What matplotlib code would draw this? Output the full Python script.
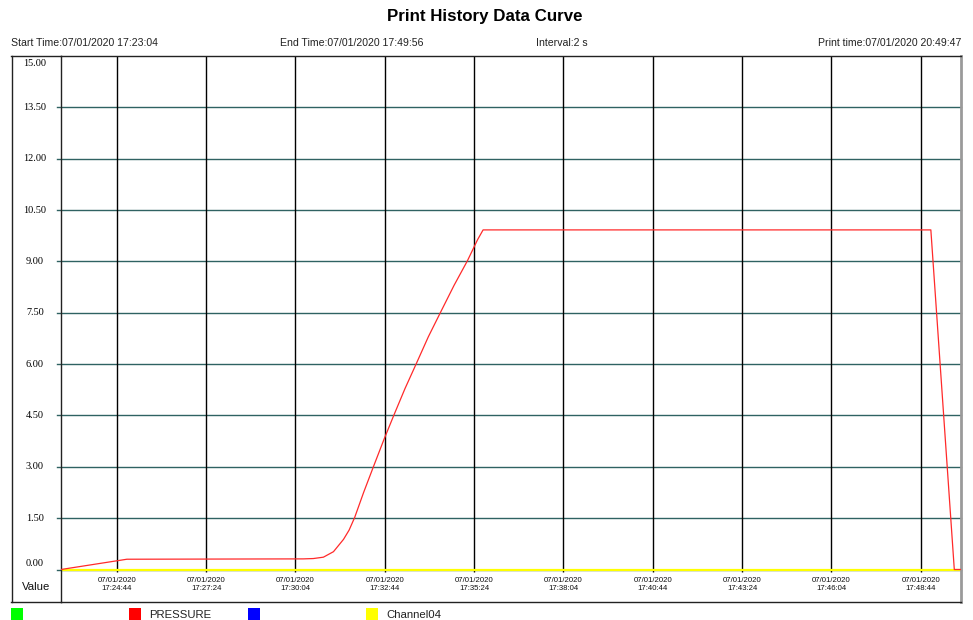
"""
Print History Data Curve - pressure record of one run, redrawn with matplotlib.
"""

import matplotlib.pyplot as plt
from matplotlib.patches import Rectangle
from matplotlib.lines import Line2D

#---------------------------------------
# Data (time in seconds after start time)
#---------------------------------------
header_start = "Start Time:07/01/2020 17:23:04"
header_end = "End Time:07/01/2020 17:49:56"
header_interval = "Interval:2 s"
header_print = "Print time:07/01/2020 20:49:47"

total_secs = 1612

pressure_t = [0, 118, 434, 452, 470, 488, 506, 516, 526, 542, 560, 578, 596,
              616, 636, 658, 680, 704, 728, 746, 756, 1558, 1600, 1612]
pressure_v = [0.0, 0.30, 0.31, 0.32, 0.36, 0.52, 0.88, 1.15, 1.52, 2.25, 3.02,
              3.78, 4.50, 5.28, 6.00, 6.80, 7.52, 8.30, 9.02, 9.63, 9.92, 9.92,
              0.0, 0.0]

channel04_t = [0, 1612]
channel04_v = [0.0, 0.0]

y_ticks = [0.0, 1.5, 3.0, 4.5, 6.0, 7.5, 9.0, 10.5, 12.0, 13.5, 15.0]

x_tick_secs = [100, 260, 420, 580, 740, 900, 1060, 1220, 1380, 1540]
x_tick_labels = ["07/01/2020\n17:24:44", "07/01/2020\n17:27:24", "07/01/2020\n17:30:04",
                 "07/01/2020\n17:32:44", "07/01/2020\n17:35:24", "07/01/2020\n17:38:04",
                 "07/01/2020\n17:40:44", "07/01/2020\n17:43:24", "07/01/2020\n17:46:04",
                 "07/01/2020\n17:48:44"]

legend_names = ["", "PRESSURE", "", "Channel04"]
legend_colors = ["#00ff00", "#ff0000", "#0000ff", "#ffff00"]

#---------------------------------------
# Figure layout in pixels
#---------------------------------------
W, H = 973, 620
fig = plt.figure(figsize=(W / 100, H / 100), dpi=100)
plt.rcParams['font.family'] = ['Liberation Sans', 'DejaVu Sans']

def fx(px):
    return px / W

def fy(py):
    return 1 - py / H

left, right, top, bottom = 61, 961, 56, 602
ax = fig.add_axes([fx(left), fy(bottom), fx(right - left), fy(top) - fy(bottom)])

# value 0 sits at pixel 569.5, value 15 at the top edge
px_per_unit = (569.5 - top) / 15.0
y_min = -(bottom - 569.5) / px_per_unit
ax.set_ylim(y_min, 15)
ax.set_xlim(0, total_secs)
ax.set_xticks([])
ax.set_yticks([])

# Horizontal grid (dark teal), sticking out a little to the left
for v in y_ticks[:-1]:
    ax.plot([-0.004, 1], [v, v], transform=ax.get_yaxis_transform(),
            color="#2f6262", linewidth=1, clip_on=False, zorder=1)

# Vertical grid (black)
ax.vlines(x_tick_secs, -0.08, 15, color="black", linewidth=1, zorder=1)

# Curves
ax.plot(channel04_t, channel04_v, color="#ffff00", linewidth=1.6, zorder=2)
ax.plot(pressure_t, pressure_v, color="#ff2a2a", linewidth=0.9, zorder=3)

# Frame
for s in ['top', 'bottom', 'left']:
    ax.spines[s].set_color("#222222")
    ax.spines[s].set_linewidth(1)
ax.spines['right'].set_color("#9a9a9a")
ax.spines['right'].set_linewidth(2)

# X tick labels under the grid lines
for sec, lab in zip(x_tick_secs, x_tick_labels):
    ax.text(sec, -0.22, lab, ha='center', va='top', fontsize=5.6,
            linespacing=1.15, color="#111111")

# Left label column
fig.add_artist(Line2D([fx(11), fx(61)], [fy(55.5), fy(55.5)], color="#222222", linewidth=1))
fig.add_artist(Line2D([fx(11), fx(61)], [fy(602), fy(602)], color="#222222", linewidth=1))
fig.add_artist(Line2D([fx(11.5), fx(11.5)], [fy(55.5), fy(602)], color="#222222", linewidth=1))

for v in y_ticks:
    py = 569.5 - v * px_per_unit
    if v == 15.0:
        py += 7
    elif v == 0.0:
        py -= 6
    fig.text(fx(35), fy(py), "%.2f" % v, ha='center', va='center', fontsize=7.4,
             family=['Liberation Serif', 'DejaVu Serif'], color="#000000")
fig.text(fx(36), fy(587), "Value", ha='center', va='center', fontsize=8.2, color="#111111")

# Title and header line
fig.text(fx(485), fy(17), "Print History Data Curve", ha='center', va='center',
         fontsize=12.2, fontweight='bold')
fig.text(fx(11), fy(43), header_start, ha='left', va='center', fontsize=7.6, color="#222222")
fig.text(fx(280), fy(43), header_end, ha='left', va='center', fontsize=7.6, color="#222222")
fig.text(fx(536), fy(43), header_interval, ha='left', va='center', fontsize=7.6, color="#222222")
fig.text(fx(961), fy(43), header_print, ha='right', va='center', fontsize=7.6, color="#222222")

# Legend row at the bottom
legend_x = [11, 129, 248, 366]
for lx, name, col in zip(legend_x, legend_names, legend_colors):
    fig.add_artist(Rectangle((fx(lx), fy(620)), fx(12), fy(608) - fy(620),
                             facecolor=col, edgecolor='none'))
    fig.text(fx(lx + 20), fy(614.5), name, ha='left', va='center', fontsize=8.2, color="#222222")

plt.savefig('out.png', dpi=100)
